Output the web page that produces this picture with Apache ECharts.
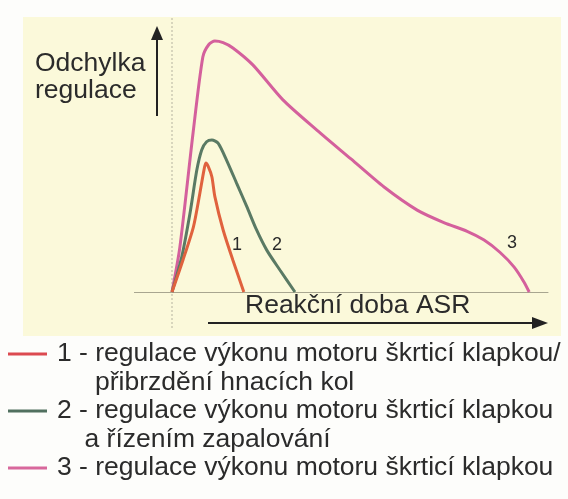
<!DOCTYPE html>
<html>
<head>
<meta charset="utf-8">
<script src="https://cdn.jsdelivr.net/npm/echarts@6/dist/echarts.min.js"></script>
<style>
  html, body { margin: 0; padding: 0; background: #fdfdfb; }
  #main { width: 568px; height: 499px; }
</style>
</head>
<body>
<div id="main"></div>
<script>
// odchylka regulace v case (relativni jednotky)
var t1 = [0, 2.9, 5.7, 7.4, 8.5, 9.0, 9.6, 10.6, 11.4, 13.6, 16.2, 19.1];
var v1 = [0, 12, 24.6, 37.2, 46, 48.7, 47.5, 43.5, 36, 23.4, 12, 0];

var t2 = [0, 2.6, 4.8, 6.6, 7.9, 9.2, 10.6, 12.3, 14.5, 17.2, 19.9, 22.5, 25.2, 28.7, 32.7];
var v2 = [0, 13.3, 29.8, 46, 53.6, 56.7, 57.4, 56.1, 49.8, 41, 32.2, 23.4, 15.8, 8.3, 0];

var t3 = [0, 2.1, 5.6, 8.2, 9.8, 11.4, 13.6, 16.2, 21.5, 29.5, 38.6, 47.6, 56.4, 65.2, 72.3, 78.5, 83, 87.2, 91, 93.6, 95];
var v3 = [0, 17, 60, 88.7, 93.4, 94.7, 94.1, 92.1, 85.7, 72.5, 61, 50.2, 39.6, 30.9, 26.2, 22.9, 19.6, 15, 9.4, 3.8, 0];

var curveNames = ['1', '2', '3'];
var curveColors = ['#e0623e', '#5a7a64', '#d4609c'];
var legendColors = ['#dc4a50', '#51705f', '#d8689c'];
// pozice cisel u krivek [x, y]
var labelPos = [[17.3, 17.7], [27.9, 17.7], [90.4, 18.5]];

var legendLines = [
  ['1 - regulace výkonu motoru škrticí klapkou/', 'přibrzdění hnacích kol'],
  ['2 - regulace výkonu motoru škrticí klapkou', 'a řízením zapalování'],
  ['3 - regulace výkonu motoru škrticí klapkou']
];
var yTitle = ['Odchylka', 'regulace'];
var xTitle = 'Reakční doba ASR';

var chart = echarts.init(document.getElementById('main'));

var font = '"Liberation Sans", Arial, sans-serif';
var bigFont = '26.5px ' + font;
var textColor = '#2b2b2b';

function zip(a, b) {
  return a.map(function (x, i) { return [x, b[i]]; });
}

var allT = [t1, t2, t3];
var allV = [v1, v2, v3];

var series = curveNames.map(function (name, i) {
  return {
    name: name,
    type: 'line',
    data: zip(allT[i], allV[i]),
    smooth: 0.25,
    showSymbol: false,
    lineStyle: { width: 3, color: curveColors[i] },
    itemStyle: { color: curveColors[i] },
    z: 3 + (2 - i),
    markPoint: {
      symbol: 'circle',
      symbolSize: 1,
      itemStyle: { color: 'rgba(0,0,0,0)' },
      label: {
        show: true,
        position: 'inside',
        formatter: name,
        color: textColor,
        fontSize: 18,
        fontFamily: font
      },
      data: [{ coord: labelPos[i] }]
    }
  };
});

// grafika: podklad, sipky, popisky, legenda
var graphics = [
  { type: 'rect', z: -10, shape: { x: 23, y: 17, width: 538, height: 319 }, style: { fill: '#fbf9da' } },
  { type: 'line', z: -5, shape: { x1: 172, y1: 18, x2: 172, y2: 328 }, style: { stroke: '#b5b39f', lineWidth: 1, lineDash: [2, 2] } },
  // svisla sipka
  { type: 'line', shape: { x1: 157, y1: 116, x2: 157, y2: 38 }, style: { stroke: '#222', lineWidth: 2 } },
  { type: 'polygon', shape: { points: [[151, 40], [163, 40], [157, 26]] }, style: { fill: '#222' } },
  // vodorovna sipka
  { type: 'line', shape: { x1: 208, y1: 323, x2: 535, y2: 323 }, style: { stroke: '#222', lineWidth: 2 } },
  { type: 'polygon', shape: { points: [[532, 317], [532, 329], [548, 323]] }, style: { fill: '#222' } }
];

yTitle.forEach(function (s, i) {
  graphics.push({ type: 'text', x: 35, y: 64 + i * 27, style: { text: s, font: bigFont, fill: textColor, verticalAlign: 'middle' } });
});
graphics.push({ type: 'text', x: 245, y: 306, style: { text: xTitle, font: bigFont, fill: textColor, verticalAlign: 'middle' } });

var rowY = 354;
legendLines.forEach(function (lines, i) {
  graphics.push({ type: 'line', shape: { x1: 8, y1: rowY, x2: 47, y2: rowY }, style: { stroke: legendColors[i], lineWidth: 3 } });
  lines.forEach(function (s, j) {
    graphics.push({
      type: 'text',
      x: j === 0 ? 57 : (i === 0 ? 95 : 84.5),
      y: rowY,
      style: { text: s, font: bigFont, fill: textColor, verticalAlign: 'middle' }
    });
    rowY += 28.5;
  });
});

chart.setOption({
  animation: false,
  backgroundColor: '#fdfdfb',
  grid: { left: 134.4, right: 20, top: 27, bottom: 207 },
  xAxis: {
    type: 'value',
    min: -10,
    max: 100,
    axisLine: { show: true, lineStyle: { color: '#a8a690', width: 1 } },
    axisTick: { show: false },
    axisLabel: { show: false },
    splitLine: { show: false }
  },
  yAxis: {
    type: 'value',
    min: 0,
    max: 100,
    show: false
  },
  series: series,
  graphic: { elements: graphics }
});
</script>
</body>
</html>
